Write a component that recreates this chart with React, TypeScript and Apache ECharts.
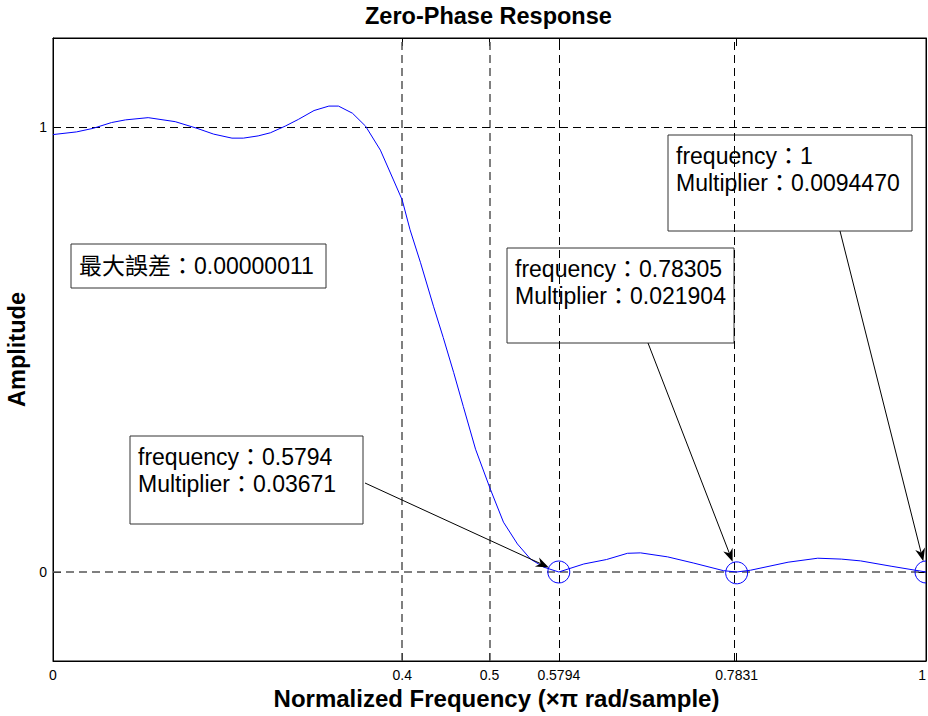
import React, { useEffect, useRef } from "react";
import * as echarts from "echarts";

// Zero-phase amplitude response of the filter
const freq = [
  0, 0.027, 0.046, 0.067, 0.083, 0.109, 0.14, 0.165, 0.184, 0.205, 0.218, 0.235, 0.249,
  0.266, 0.281, 0.299, 0.316, 0.327, 0.343, 0.358, 0.375, 0.39, 0.4, 0.409, 0.421, 0.436,
  0.447, 0.459, 0.47, 0.484, 0.501, 0.516, 0.532, 0.547, 0.562, 0.5794, 0.608, 0.634, 0.658,
  0.673, 0.704, 0.734, 0.768, 0.78305, 0.799, 0.842, 0.876, 0.903, 0.925, 0.96, 1,
];
const amp = [
  0.983, 0.989, 0.997, 1.01, 1.016, 1.021, 1.012, 0.997, 0.984, 0.975, 0.975, 0.98, 0.987,
  1.002, 1.017, 1.037, 1.047, 1.047, 1.031, 1.002, 0.948, 0.881, 0.836, 0.769, 0.695, 0.596,
  0.527, 0.448, 0.372, 0.276, 0.186, 0.112, 0.063, 0.029, 0.011, 0, 0.018, 0.028, 0.042,
  0.043, 0.034, 0.02, 0.003, 0, 0.004, 0.022, 0.031, 0.029, 0.025, 0.013, 0,
];

const xTickValues = [0, 0.4, 0.5, 0.5794, 0.78305, 1];
const xTickLabels = ["0", "0.4", "0.5", "0.5794", "0.7831", "1"];
const yTickValues = [0, 1];
const yTickLabels = ["0", "1"];

// Grid guides: edge frequencies (grey) and zero-crossing markers (black)
const greyGuidesX = [0.4, 0.5];
const blackGuidesX = [0.5794, 0.78305];
const greyGuidesY = [0];
const blackGuidesY = [1];

// Marked zeros of the response and their multipliers
const markerFreq = [0.5794, 0.78305, 1];
const markerAmp = [0, 0, 0];
const markerFreqText = ["0.5794", "0.78305", "1"];
const markerMultiplier = ["0.03671", "0.021904", "0.0094470"];
const maxErrorText = "0.00000011";

// Callout boxes (pixels) and the point on each box where its arrow starts
const calloutBoxes = [
  { x: 130, y: 436, w: 233, h: 88, ax: 365, ay: 483 },
  { x: 507, y: 248, w: 227, h: 95, ax: 648, ay: 343 },
  { x: 668, y: 135, w: 244, h: 96, ax: 840, ay: 231 },
];
const errorBox = { x: 71, y: 244, w: 255, h: 44 };

const FONT = "'Liberation Sans', Arial, 'Noto Sans CJK TC', sans-serif";
const BLUE = "#0000ff";
const DASH = [8, 5];

function tickLabel(v: number): string {
  let best = 0;
  for (let i = 1; i < xTickValues.length; i++) {
    if (Math.abs(xTickValues[i] - v) < Math.abs(xTickValues[best] - v)) best = i;
  }
  return xTickLabels[best];
}

export default function App() {
  const ref = useRef<HTMLDivElement>(null);

  useEffect(() => {
    if (!ref.current) return;
    const chart = echarts.init(ref.current, null, { renderer: "svg" });

    const guideLines: any[] = [
      ...greyGuidesX.map((v) => ({ xAxis: v, lineStyle: { color: "#555", width: 1.5, type: DASH } })),
      ...blackGuidesX.map((v) => ({ xAxis: v, lineStyle: { color: "#000", width: 1, type: DASH } })),
      ...greyGuidesY.map((v) => ({ yAxis: v, lineStyle: { color: "#555", width: 1.5, type: DASH } })),
      ...blackGuidesY.map((v) => ({ yAxis: v, lineStyle: { color: "#000", width: 1, type: DASH } })),
    ];

    const graphics: any[] = [];
    graphics.push({
      type: "group",
      z: 100,
      children: [
        {
          type: "rect",
          shape: { x: errorBox.x, y: errorBox.y, width: errorBox.w, height: errorBox.h },
          style: { fill: "#fff", stroke: "#333", lineWidth: 1 },
        },
        {
          type: "text",
          x: errorBox.x + 8,
          y: errorBox.y + errorBox.h / 2,
          style: {
            text: "最大誤差：" + maxErrorText,
            font: `23px ${FONT}`,
            fill: "#000",
            verticalAlign: "middle",
          },
        },
      ],
    });
    calloutBoxes.forEach((b, i) => {
      graphics.push({
        type: "group",
        z: 100,
        children: [
          {
            type: "rect",
            shape: { x: b.x, y: b.y, width: b.w, height: b.h },
            style: { fill: "#fff", stroke: "#333", lineWidth: 1 },
          },
          {
            type: "text",
            x: b.x + 8,
            y: b.y + 8,
            style: {
              text: "frequency：" + markerFreqText[i] + "\nMultiplier：" + markerMultiplier[i],
              font: `23px ${FONT}`,
              lineHeight: 26.6,
              fill: "#000",
              verticalAlign: "top",
            },
          },
        ],
      });
    });

    const markerData = markerFreq.map((f, i) => [f, markerAmp[i]]);

    const frameAxisLine = { show: true, onZero: false, lineStyle: { color: "#000", width: 1 } };

    chart.setOption({
      animation: false,
      backgroundColor: "#fff",
      title: {
        text: "Zero-Phase Response",
        left: 365,
        top: 4,
        padding: 0,
        textStyle: { fontFamily: FONT, fontSize: 23.5, fontWeight: "bold", color: "#000" },
      },
      grid: {
        left: 53,
        right: 2,
        top: 38,
        bottom: 55,
        outerBoundsMode: "none",
        containLabel: false,
        show: true,
        borderColor: "#000",
        borderWidth: 1,
        backgroundColor: "#fff",
      },
      xAxis: [
        {
          type: "value",
          min: 0,
          max: 1,
          name: "Normalized Frequency (×π rad/sample)",
          nameLocation: "middle",
          nameGap: 25,
          nameTextStyle: {
            fontFamily: FONT,
            fontSize: 24,
            fontWeight: "bold",
            color: "#000",
            padding: [0, 0, 0, 14],
          },
          axisLine: frameAxisLine,
          axisTick: { show: true, inside: true, length: 8, customValues: xTickValues, lineStyle: { color: "#000" } },
          axisLabel: {
            show: true,
            customValues: xTickValues,
            formatter: (v: number) => tickLabel(v),
            alignMaxLabel: "right",
            fontFamily: FONT,
            fontSize: 14,
            color: "#000",
            margin: 7,
          },
          splitLine: { show: false },
        },
        {
          type: "value",
          position: "top",
          min: 0,
          max: 1,
          axisLine: frameAxisLine,
          axisTick: { show: true, inside: true, length: 8, customValues: xTickValues, lineStyle: { color: "#000" } },
          axisLabel: { show: false },
          splitLine: { show: false },
        },
      ],
      yAxis: [
        {
          type: "value",
          min: -0.2,
          max: 1.2,
          name: "Amplitude",
          nameLocation: "middle",
          nameGap: 20,
          nameTextStyle: { fontFamily: FONT, fontSize: 23.5, fontWeight: "bold", color: "#000" },
          axisLine: frameAxisLine,
          axisTick: { show: true, inside: true, length: 8, customValues: yTickValues, lineStyle: { color: "#000" } },
          axisLabel: {
            show: true,
            customValues: yTickValues,
            formatter: (v: number) => yTickLabels[yTickValues.indexOf(Math.round(v))] ?? "",
            fontFamily: FONT,
            fontSize: 14,
            color: "#000",
            margin: 6,
          },
          splitLine: { show: false },
        },
        {
          type: "value",
          position: "right",
          min: -0.2,
          max: 1.2,
          axisLine: frameAxisLine,
          axisTick: { show: true, inside: true, length: 8, customValues: yTickValues, lineStyle: { color: "#000" } },
          axisLabel: { show: false },
          splitLine: { show: false },
        },
      ],
      series: [
        {
          type: "line",
          data: freq.map((f, i) => [f, amp[i]]),
          showSymbol: false,
          symbol: "none",
          lineStyle: { color: BLUE, width: 1 },
          z: 3,
          markLine: {
            silent: true,
            symbol: ["none", "none"],
            label: { show: false },
            data: guideLines,
            z: 2,
          },
        },
        {
          type: "custom",
          clip: true,
          data: markerData,
          z: 4,
          renderItem: (params: any, api: any) => {
            const p = api.coord([api.value(0), api.value(1)]);
            return {
              type: "circle",
              shape: { cx: p[0], cy: p[1], r: 11 },
              style: { fill: "none", stroke: BLUE, lineWidth: 1 },
            };
          },
        },
        {
          type: "custom",
          clip: false,
          data: markerData,
          z: 6,
          renderItem: (params: any, api: any) => {
            const b = calloutBoxes[params.dataIndex];
            const m = api.coord([api.value(0), api.value(1)]);
            const dx = m[0] - b.ax;
            const dy = m[1] - b.ay;
            const len = Math.hypot(dx, dy);
            const ux = dx / len;
            const uy = dy / len;
            const nx = -uy;
            const ny = ux;
            const tip = [m[0] - ux * 11, m[1] - uy * 11];
            const back = [tip[0] - ux * 13, tip[1] - uy * 13];
            const notch = [tip[0] - ux * 9, tip[1] - uy * 9];
            return {
              type: "group",
              children: [
                {
                  type: "line",
                  shape: { x1: b.ax, y1: b.ay, x2: notch[0], y2: notch[1] },
                  style: { stroke: "#000", lineWidth: 1 },
                },
                {
                  type: "polygon",
                  shape: {
                    points: [
                      tip,
                      [back[0] + nx * 5, back[1] + ny * 5],
                      notch,
                      [back[0] - nx * 5, back[1] - ny * 5],
                    ],
                  },
                  style: { fill: "#000" },
                },
              ],
            };
          },
        },
      ],
      graphic: graphics,
    });

    return () => chart.dispose();
  }, []);

  return (
    <div
      ref={ref}
      style={{ position: "fixed", left: 0, top: 0, width: 928, height: 716 }}
    />
  );
}
